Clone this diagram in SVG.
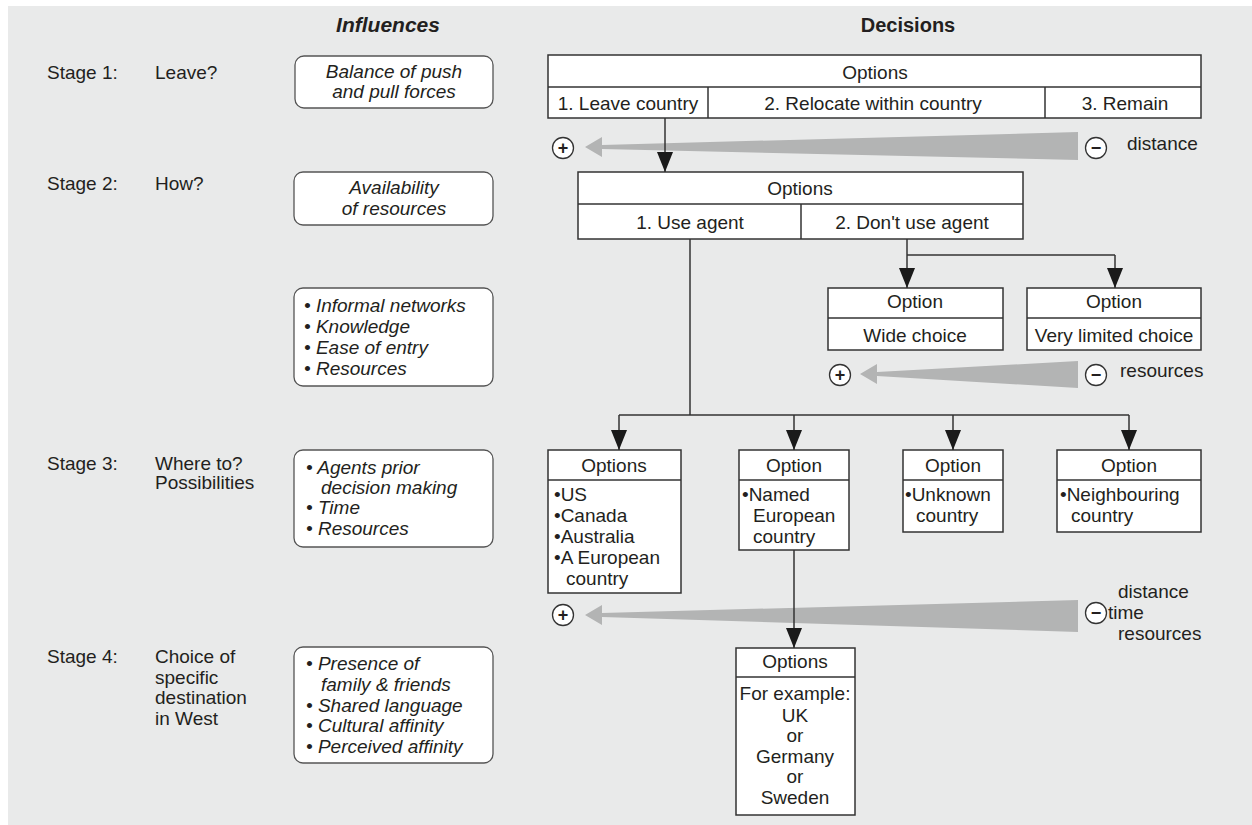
<svg xmlns="http://www.w3.org/2000/svg" width="1252" height="825" viewBox="0 0 1252 825">
<defs>
<style>
text{font-family:"Liberation Sans",Arial,sans-serif;fill:#231f20;font-size:19px}
.c{text-anchor:middle}
.i{font-style:italic}
.h{font-weight:bold;font-style:italic;font-size:21px}
.hd{font-weight:bold;font-size:20px}
.box{fill:#fff;stroke:#333;stroke-width:1.5}
.rbox{fill:#fff;stroke:#555;stroke-width:1.3}
.ln{fill:none;stroke:#333;stroke-width:1.5}
.con{fill:none;stroke:#333;stroke-width:1.5;marker-end:url(#ah)}
.wedge{fill:#b3b4b4}
.circ{fill:#fff;stroke:#333;stroke-width:1.3}
.sym{font-size:18px;font-weight:bold;text-anchor:middle}
</style>
<marker id="ah" viewBox="0 0 20 16" refX="20" refY="8" markerWidth="20" markerHeight="16" markerUnits="userSpaceOnUse" orient="auto">
<path d="M0,0 L20,8 L0,16 z" fill="#1a1a1a"/>
</marker>
</defs>
<rect x="8" y="6" width="1244" height="819" fill="#e9eaea"/>

<g id="headers">
<text class="h c" x="388" y="32">Influences</text>
<text class="hd c" x="908" y="32">Decisions</text>
</g>

<g id="stages">
<text x="47" y="79">Stage 1:</text><text x="155" y="79">Leave?</text>
<text x="47" y="190">Stage 2:</text><text x="155" y="190">How?</text>
<text x="47" y="470">Stage 3:</text><text x="155" y="470">Where to?</text><text x="155" y="489">Possibilities</text>
<text x="47" y="663">Stage 4:</text><text x="155" y="663">Choice of</text><text x="155" y="684">specific</text><text x="155" y="704">destination</text><text x="155" y="725">in West</text>
</g>

<g id="inf1"><rect class="rbox" x="295" y="56" width="198" height="52" rx="9"/>
<text class="i c" x="394" y="78">Balance of push</text><text class="i c" x="394" y="98">and pull forces</text></g>
<g id="inf2"><rect class="rbox" x="294" y="172" width="199" height="53" rx="9"/>
<text class="i c" x="394" y="194">Availability</text><text class="i c" x="394" y="215">of resources</text></g>
<g id="inf3"><rect class="rbox" x="294" y="288" width="199" height="98" rx="9"/>
<text class="i" x="304" y="312">• Informal networks</text><text class="i" x="304" y="333">• Knowledge</text><text class="i" x="304" y="354">• Ease of entry</text><text class="i" x="304" y="375">• Resources</text></g>
<g id="inf4"><rect class="rbox" x="294" y="450" width="199" height="97" rx="9"/>
<text class="i" x="306" y="474">• Agents prior</text><text class="i" x="321" y="494">decision making</text><text class="i" x="306" y="514">• Time</text><text class="i" x="306" y="535">• Resources</text></g>
<g id="inf5"><rect class="rbox" x="294" y="647" width="199" height="116" rx="9"/>
<text class="i" x="306" y="670">• Presence of</text><text class="i" x="321" y="691">family &amp; friends</text><text class="i" x="306" y="712">• Shared language</text><text class="i" x="306" y="732">• Cultural affinity</text><text class="i" x="306" y="753">• Perceived affinity</text></g>

<g id="opt1">
<rect class="box" x="548" y="55" width="653" height="63"/>
<line class="ln" x1="548" y1="87" x2="1201" y2="87"/>
<line class="ln" x1="708" y1="87" x2="708" y2="118"/>
<line class="ln" x1="1045" y1="87" x2="1045" y2="118"/>
<text class="c" x="875" y="79">Options</text>
<text class="c" x="628" y="110">1. Leave country</text>
<text class="c" x="873" y="110">2. Relocate within country</text>
<text class="c" x="1125" y="110">3. Remain</text>
</g>

<g id="scale1">
<path class="wedge" d="M585,147 L602,137 L602,145 L1078,132 L1078,160 L602,149 L602,157 z"/>
<circle class="circ" cx="563" cy="148" r="10.5"/><text class="sym" x="563" y="154">+</text>
<circle class="circ" cx="1096" cy="148" r="10.5"/><text class="sym" x="1096" y="154">−</text>
<text x="1127" y="150">distance</text>
</g>

<g id="opt2">
<rect class="box" x="578" y="172" width="445" height="67"/>
<line class="ln" x1="578" y1="204" x2="1023" y2="204"/>
<line class="ln" x1="801" y1="204" x2="801" y2="239"/>
<text class="c" x="800" y="195">Options</text>
<text class="c" x="690" y="229">1. Use agent</text>
<text class="c" x="912" y="229">2. Don't use agent</text>
</g>

<g id="wide">
<rect class="box" x="828" y="288" width="175" height="62"/>
<line class="ln" x1="828" y1="318" x2="1003" y2="318"/>
<text class="c" x="915" y="308">Option</text><text class="c" x="915" y="342">Wide choice</text>
</g>
<g id="limited">
<rect class="box" x="1027" y="288" width="174" height="62"/>
<line class="ln" x1="1027" y1="318" x2="1201" y2="318"/>
<text class="c" x="1114" y="308">Option</text><text class="c" x="1114" y="342">Very limited choice</text>
</g>

<g id="scale2">
<path class="wedge" d="M860,374 L877,364 L877,372 L1078,361 L1078,388 L877,376 L877,384 z"/>
<circle class="circ" cx="840" cy="375" r="10.5"/><text class="sym" x="840" y="381">+</text>
<circle class="circ" cx="1096" cy="375" r="10.5"/><text class="sym" x="1096" y="381">−</text>
<text x="1120" y="377">resources</text>
</g>

<g id="dest1">
<rect class="box" x="548" y="450" width="133" height="143"/>
<line class="ln" x1="548" y1="480" x2="681" y2="480"/>
<text class="c" x="614" y="472">Options</text>
<text x="554" y="501">•US</text><text x="554" y="522">•Canada</text><text x="554" y="543">•Australia</text><text x="554" y="564">•A European</text><text x="566" y="585">country</text>
</g>
<g id="dest2">
<rect class="box" x="739" y="450" width="110" height="100"/>
<line class="ln" x1="739" y1="480" x2="849" y2="480"/>
<text class="c" x="794" y="472">Option</text>
<text x="742" y="501">•Named</text><text x="753" y="522">European</text><text x="753" y="543">country</text>
</g>
<g id="dest3">
<rect class="box" x="903" y="450" width="100" height="82"/>
<line class="ln" x1="903" y1="480" x2="1003" y2="480"/>
<text class="c" x="953" y="472">Option</text>
<text x="905" y="501">•Unknown</text><text x="916" y="522">country</text>
</g>
<g id="dest4">
<rect class="box" x="1057" y="450" width="144" height="82"/>
<line class="ln" x1="1057" y1="480" x2="1201" y2="480"/>
<text class="c" x="1129" y="472">Option</text>
<text x="1060" y="501">•Neighbouring</text><text x="1071" y="522">country</text>
</g>

<g id="scale3">
<path class="wedge" d="M585,615 L602,605 L602,613 L1078,600 L1078,632 L602,617 L602,625 z"/>
<circle class="circ" cx="563" cy="615" r="10.5"/><text class="sym" x="563" y="621">+</text>
<circle class="circ" cx="1096" cy="613" r="10.5"/><text class="sym" x="1096" y="619">−</text>
<text x="1118" y="598">distance</text><text x="1108" y="619">time</text><text x="1118" y="640">resources</text>
</g>

<g id="final">
<rect class="box" x="736" y="648" width="119" height="167"/>
<line class="ln" x1="736" y1="677" x2="855" y2="677"/>
<text class="c" x="795" y="668">Options</text>
<text class="c" x="795" y="700">For example:</text>
<text class="c" x="795" y="722">UK</text>
<text class="c" x="795" y="742">or</text>
<text class="c" x="795" y="763">Germany</text>
<text class="c" x="795" y="783">or</text>
<text class="c" x="795" y="804">Sweden</text>
</g>

<g id="connectors">
<line class="con" x1="665" y1="118" x2="665" y2="172"/>
<polyline class="ln" points="690,239 690,415"/>
<line class="ln" x1="619" y1="415" x2="1129" y2="415"/>
<line class="con" x1="619" y1="415" x2="619" y2="450"/>
<line class="con" x1="794" y1="415" x2="794" y2="450"/>
<line class="con" x1="953" y1="415" x2="953" y2="450"/>
<line class="con" x1="1129" y1="415" x2="1129" y2="450"/>
<line class="ln" x1="907" y1="239" x2="907" y2="255"/>
<line class="ln" x1="907" y1="255" x2="1115" y2="255"/>
<line class="con" x1="907" y1="255" x2="907" y2="288"/>
<line class="con" x1="1115" y1="255" x2="1115" y2="288"/>
<line class="con" x1="794" y1="550" x2="794" y2="648"/>
</g>
</svg>
